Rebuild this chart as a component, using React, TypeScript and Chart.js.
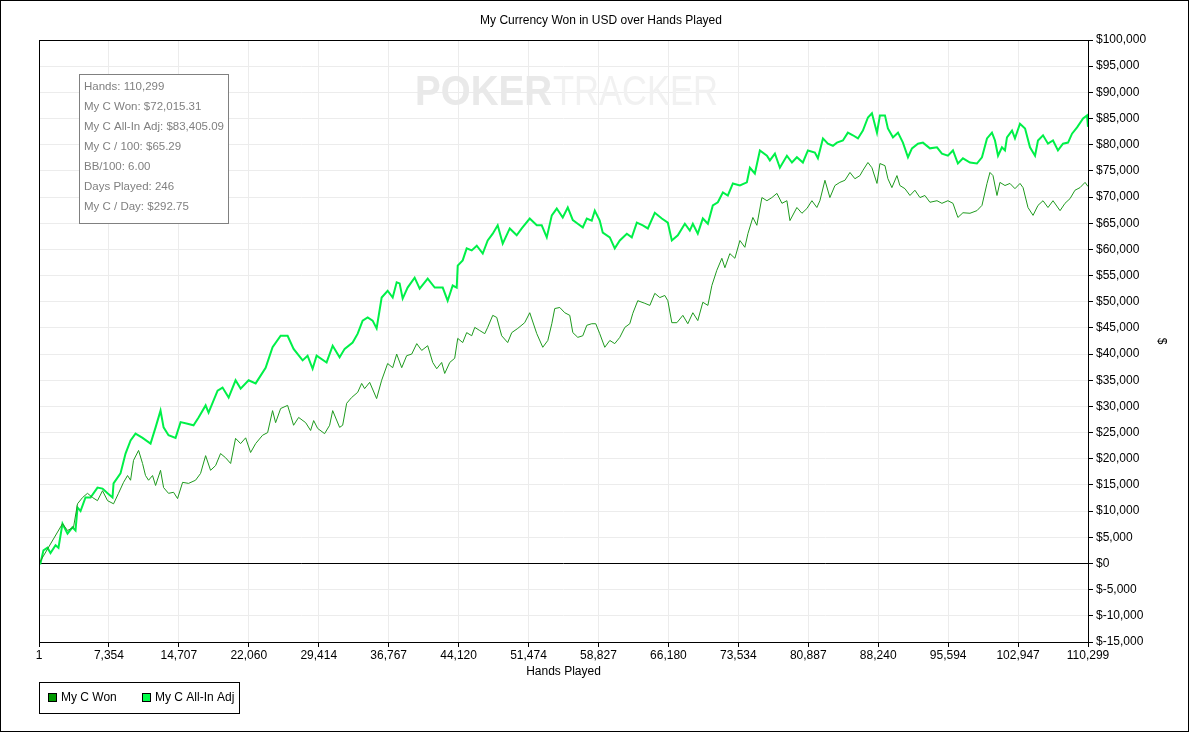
import React, { useEffect, useRef } from "react";
import { Chart, registerables } from "chart.js";

Chart.register(...registerables);

const titleText = "My Currency Won in USD over Hands Played";
const xAxisTitle = "Hands Played";
const yAxisTitle = "$";
const seriesNames = ["My C Won", "My C All-In Adj"];
const infoLines = [
  "Hands: 110,299",
  "My C Won: $72,015.31",
  "My C All-In Adj: $83,405.09",
  "My C / 100: $65.29",
  "BB/100: 6.00",
  "Days Played: 246",
  "My C / Day: $292.75",
];
const xTickValues = [1, 7354, 14707, 22060, 29414, 36767, 44120, 51474, 58827, 66180, 73534, 80887, 88240, 95594, 102947, 110299];

const wonHands = [
  1, 2470, 3000, 3630, 4050, 4580, 5100, 5630, 6150, 6680, 7210, 7840, 8360, 8890, 9310, 9630, 9940, 10470, 10890, 11200,
  11520, 11940, 12260, 12780, 13100, 13620, 14150, 14570, 15100, 15730, 16460, 16990, 17520, 18040, 18570, 19090, 19620, 20150, 20670, 21200,
  21730, 22250, 22780, 23510, 24040, 24560, 24880, 25410, 26140, 26460, 26770, 27300, 28040, 28560, 28880, 29300, 30030, 30560, 30880, 31610,
  31930, 32350, 32870, 33510, 33930, 34240, 34770, 35500, 36030, 36660, 37190, 37610, 38140, 38660, 39190, 39720, 40240, 40870, 41400, 41820,
  42340, 42660, 43190, 43710, 44030, 44550, 44970, 45500, 45820, 46340, 46870, 47180, 47710, 48130, 48650, 49280, 49710, 50340, 51070, 51600,
  52340, 52970, 53500, 53920, 54230, 54760, 55280, 55810, 56130, 56650, 57180, 57600, 58120, 58540, 58960, 59490, 60020, 60540, 61070, 61600,
  62120, 62440, 62960, 63700, 64230, 64750, 65280, 65800, 66120, 66540, 67070, 67700, 68220, 68750, 69270, 69800, 70330, 70750, 71270, 71800,
  72120, 72640, 73170, 73700, 74220, 74540, 75060, 75480, 76010, 76540, 77060, 77590, 78120, 78640, 78960, 79690, 80220, 80740, 81270, 81790,
  82110, 82640, 83160, 83690, 84210, 84740, 85270, 85790, 86320, 86630, 87160, 87580, 88110, 88420, 88950, 89260, 89680, 90210, 90520, 91050,
  91580, 92100, 92630, 93150, 93680, 94420, 94940, 95570, 96100, 96620, 97150, 97890, 98620, 99150, 99680, 99990, 100310, 100730, 101040, 101570,
  102090, 102620, 103150, 103470, 103990, 104520, 105040, 105570, 106090, 106620, 107360, 107880, 108410, 108930, 109460, 109990, 110299,
];
const wonValues = [
  0, 7600, 6300, 6900, 11400, 12600, 13400, 12600, 12000, 13900, 12000, 11400, 13400, 15500, 16800, 15900, 19700, 21600, 19100, 16800,
  15900, 16800, 14900, 17800, 14500, 13400, 13600, 12400, 15500, 15300, 15900, 17200, 20600, 17800, 18700, 21000, 20200, 19100, 23900, 22900,
  24000, 21200, 22900, 24500, 25000, 29200, 26900, 29600, 30200, 28300, 26400, 27900, 26900, 25400, 27300, 25800, 24800, 26400, 29200, 26000,
  26400, 30600, 31700, 32700, 34400, 33400, 34600, 31500, 35000, 38200, 37400, 40000, 37400, 39700, 40000, 42000, 40700, 41600, 38400, 37200,
  38400, 36300, 38400, 39200, 43000, 42200, 44100, 43500, 45100, 44500, 43900, 45100, 47400, 47000, 43500, 42200, 44100, 44900, 46000, 47900,
  43900, 41300, 42600, 45800, 48700, 48900, 47900, 47400, 44100, 43200, 43500, 45500, 45800, 45800, 43900, 41300, 42600, 42000, 43200, 45100,
  45800, 47800, 50200, 49700, 49300, 51600, 50800, 51200, 50200, 46000, 46000, 47400, 45800, 47900, 46400, 49900, 49300, 53100, 56000, 58300,
  56500, 59200, 58300, 61700, 60400, 63000, 66100, 64600, 69900, 69300, 69900, 70700, 68800, 69300, 65500, 68000, 66900, 67800, 69300, 68000,
  69300, 73200, 69900, 72200, 72800, 73200, 74700, 73500, 74100, 75100, 76600, 75600, 72600, 76400, 76000, 73500, 71800, 74100, 72200, 71600,
  70300, 71300, 69900, 70300, 69000, 69300, 68800, 69300, 68800, 66100, 67000, 66900, 67400, 68400, 72600, 74700, 74100, 70300, 72800, 72200,
  72600, 71600, 72600, 71800, 68000, 66500, 68400, 69300, 68000, 69300, 67400, 68800, 69700, 71300, 71800, 72800, 72015,
];

const adjHands = [
  1, 150, 470, 890, 1210, 1740, 2050, 2470, 3000, 3520, 3840, 4050, 4370, 4890, 5420, 6150, 6680, 7210, 7730, 7840,
  8570, 9100, 9630, 10150, 10890, 11730, 12260, 12780, 13100, 13620, 14360, 14890, 15620, 16250, 16780, 17520, 17830, 18780, 19300, 19940,
  20670, 21200, 22040, 22780, 23830, 24560, 25410, 26140, 26770, 27720, 28240, 28770, 29190, 30240, 30880, 31610, 32140, 32980, 33510, 34030,
  34560, 35080, 35500, 36030, 36660, 37190, 37610, 37920, 38240, 38760, 39500, 40030, 40870, 41610, 42450, 42970, 43500, 43920, 44030, 44550,
  44970, 45500, 46030, 46660, 47180, 47710, 48230, 48760, 49500, 50230, 50760, 51600, 52340, 52860, 53390, 53920, 54440, 55070, 55600, 56130,
  56650, 57180, 57600, 58120, 58440, 58960, 59280, 60020, 60540, 61070, 61810, 62330, 62860, 63490, 64020, 64750, 65490, 66120, 66540, 67170,
  67910, 68430, 68750, 69270, 69800, 70330, 70850, 71380, 71910, 72430, 72960, 73700, 74430, 74750, 75270, 75800, 76540, 76850, 77380, 77900,
  78640, 79170, 79690, 80320, 80850, 81580, 81900, 82430, 82950, 83480, 83900, 84530, 85050, 85580, 86110, 86630, 87160, 87580, 88110, 88420,
  88950, 89260, 89790, 90320, 90840, 91370, 91790, 92420, 92940, 93680, 94420, 94940, 95570, 96100, 96620, 97150, 97890, 98620, 99150, 99680,
  100200, 100520, 100840, 101250, 101570, 101780, 102310, 102620, 103150, 103680, 104200, 104730, 105040, 105570, 106090, 106620, 107140, 107670, 108200, 108620,
  109150, 109780, 110200, 110299,
];
const adjValues = [
  0, 0, 2500, 3000, 2000, 3500, 3000, 7600, 5700, 6900, 6300, 10700, 10000, 12600, 12600, 14500, 14300, 13400, 12600, 15300,
  17200, 21000, 23500, 24800, 24000, 22900, 26000, 29200, 26000, 24500, 24000, 27000, 26700, 26400, 27900, 30200, 28800, 33000, 33600, 31700,
  35000, 33400, 35000, 34400, 37400, 41300, 43500, 43500, 41000, 38800, 39700, 37200, 39700, 38400, 41600, 39400, 41000, 42200, 43900, 46400,
  47000, 46400, 44900, 50800, 52100, 50800, 53700, 53500, 50600, 52700, 54600, 52500, 54400, 52700, 52700, 50200, 53100, 52700, 56900, 57900,
  60200, 59800, 60700, 59200, 61700, 63000, 64600, 61100, 64000, 62700, 64000, 65900, 64600, 64600, 62300, 66500, 67800, 66100, 68000, 65600,
  64900, 64200, 65900, 65500, 67400, 65500, 63200, 62300, 60200, 61700, 63000, 62300, 65100, 64600, 64000, 67000, 65900, 65100, 61700, 62700,
  64900, 63600, 64900, 63000, 65900, 64900, 68400, 69000, 70900, 70300, 72600, 72200, 72800, 75600, 74500, 78900, 77900, 77000, 78300, 75600,
  77900, 76600, 77600, 76600, 78900, 78500, 77400, 81200, 80200, 79800, 80400, 80800, 82300, 81800, 81200, 82700, 85200, 86000, 82300, 85600,
  85600, 83100, 81400, 82300, 80400, 77600, 79300, 80200, 80400, 79300, 79500, 78300, 77900, 78900, 76400, 77400, 76600, 76400, 77600, 81200,
  82300, 80800, 77900, 79500, 78900, 81400, 82700, 81200, 84000, 83100, 79500, 77900, 80800, 81800, 80200, 80800, 78900, 80200, 80400, 82100,
  83300, 85000, 85600, 83405,
];

const FONT = "'Liberation Sans', Arial, sans-serif";
const wonColor = "#1e9a1e";
const wonSwatch = "#009900";
const adjColor = "#00f048";
const adjSwatch = "#00ff48";

const fmtMoney = (v: number) => "$" + v.toLocaleString("en-US");

const decorPlugin = {
  id: "decor",
  beforeDatasetsDraw(chart: any) {
    const ctx = chart.ctx as CanvasRenderingContext2D;
    const ca = chart.chartArea;
    ctx.save();
    ctx.beginPath();
    ctx.rect(ca.left, ca.top, ca.right - ca.left, ca.bottom - ca.top);
    ctx.clip();
    // watermark
    ctx.textBaseline = "alphabetic";
    ctx.textAlign = "left";
    ctx.font = `bold 43px ${FONT}`;
    const w1 = ctx.measureText("POKER").width;
    ctx.save();
    ctx.translate(415, 105);
    ctx.scale(137 / w1, 1);
    ctx.fillStyle = "#e9e9e9";
    ctx.fillText("POKER", 0, 0);
    ctx.restore();
    ctx.font = `43px ${FONT}`;
    const w2 = ctx.measureText("TRACKER").width;
    ctx.save();
    ctx.translate(553, 105);
    ctx.scale(165 / w2, 1);
    ctx.fillStyle = "#f1f1f1";
    ctx.fillText("TRACKER", 0, 0);
    ctx.restore();
    // zero line
    const y0 = Math.round(chart.scales.y.getPixelForValue(0)) + 0.5;
    ctx.strokeStyle = "#000";
    ctx.lineWidth = 1;
    ctx.beginPath();
    ctx.moveTo(ca.left, y0);
    ctx.lineTo(ca.right, y0);
    ctx.stroke();
    ctx.restore();
  },
  afterDraw(chart: any) {
    const ctx = chart.ctx as CanvasRenderingContext2D;
    const ca = chart.chartArea;
    ctx.save();
    // outer border
    ctx.strokeStyle = "#000";
    ctx.lineWidth = 1;
    ctx.strokeRect(0.5, 0.5, chart.width - 1, chart.height - 1);
    // plot frame
    ctx.strokeRect(Math.round(ca.left) + 0.5, Math.round(ca.top) + 0.5, Math.round(ca.right - ca.left), Math.round(ca.bottom - ca.top));
    // title
    ctx.fillStyle = "#000";
    ctx.font = `12px ${FONT}`;
    ctx.textAlign = "center";
    ctx.textBaseline = "middle";
    ctx.fillText(titleText, 601, 21);
    // x title
    ctx.fillText(xAxisTitle, (ca.left + ca.right) / 2, 672);
    // y title
    ctx.save();
    ctx.translate(1161, 341);
    ctx.rotate(Math.PI / 2);
    ctx.fillText(yAxisTitle, 0, 0);
    ctx.restore();
    // info box
    ctx.fillStyle = "#fff";
    ctx.fillRect(80, 75, 148, 148);
    ctx.strokeStyle = "#808080";
    ctx.strokeRect(79.5, 74.5, 149, 149);
    ctx.fillStyle = "#808080";
    ctx.textAlign = "left";
    ctx.font = `11.5px ${FONT}`;
    infoLines.forEach((t, i) => ctx.fillText(t, 84, 87 + i * 20));
    // legend
    ctx.font = `12px ${FONT}`;
    ctx.strokeStyle = "#000";
    ctx.strokeRect(39.5, 682.5, 200, 31);
    const items = [
      { x: 48, c: wonSwatch, t: seriesNames[0] },
      { x: 142, c: adjSwatch, t: seriesNames[1] },
    ];
    items.forEach((it) => {
      ctx.fillStyle = it.c;
      ctx.fillRect(it.x, 693, 9, 9);
      ctx.strokeStyle = "#000";
      ctx.strokeRect(it.x + 0.5, 693.5, 8, 8);
      ctx.fillStyle = "#000";
      ctx.fillText(it.t, it.x + 13, 698);
    });
    ctx.restore();
  },
};

export default function App() {
  const ref = useRef<HTMLCanvasElement | null>(null);
  useEffect(() => {
    document.body.style.margin = "0";
    const canvas = ref.current!;
    const chart = new Chart(canvas, {
      type: "line",
      data: {
        datasets: [
          {
            label: seriesNames[0],
            data: wonHands.map((h, i) => ({ x: h, y: wonValues[i] })),
            borderColor: wonColor,
            borderWidth: 1,
            pointRadius: 0,
            tension: 0,
            fill: false,
          },
          {
            label: seriesNames[1],
            data: adjHands.map((h, i) => ({ x: h, y: adjValues[i] })),
            borderColor: adjColor,
            borderWidth: 2,
            pointRadius: 0,
            tension: 0,
            fill: false,
          },
        ],
      },
      options: {
        responsive: false,
        animation: false,
        devicePixelRatio: 1,
        events: [],
        layout: { padding: { left: 39, top: 40, right: 0, bottom: 0 } },
        plugins: { legend: { display: false }, title: { display: false }, tooltip: { enabled: false } },
        scales: {
          x: {
            type: "linear",
            min: 1,
            max: 110299,
            afterBuildTicks: (scale: any) => {
              scale.ticks = xTickValues.map((v) => ({ value: v }));
            },
            afterFit: (scale: any) => {
              scale.height = 90;
            },
            grid: { color: "#ececec", tickColor: "#000", tickLength: 5, lineWidth: 1 },
            border: { color: "#000" },
            ticks: {
              color: "#000",
              font: { family: FONT, size: 12 },
              padding: 1,
              maxRotation: 0,
              autoSkip: false,
              callback: (v: any) => Number(v).toLocaleString("en-US"),
            },
          },
          y: {
            type: "linear",
            position: "right",
            min: -15000,
            max: 100000,
            afterFit: (scale: any) => {
              scale.width = 101;
            },
            grid: { color: "#ececec", tickColor: "#000", tickLength: 5 },
            border: { color: "#000" },
            ticks: {
              stepSize: 5000,
              color: "#000",
              font: { family: FONT, size: 12 },
              padding: 3,
              callback: (v: any) => fmtMoney(Number(v)),
            },
          },
        },
      },
      plugins: [decorPlugin],
    });
    return () => chart.destroy();
  }, []);
  return (
    <div style={{ position: "absolute", left: 0, top: 0, width: 1189, height: 732 }}>
      <canvas ref={ref} width={1189} height={732} style={{ width: 1189, height: 732, display: "block" }} />
    </div>
  );
}
